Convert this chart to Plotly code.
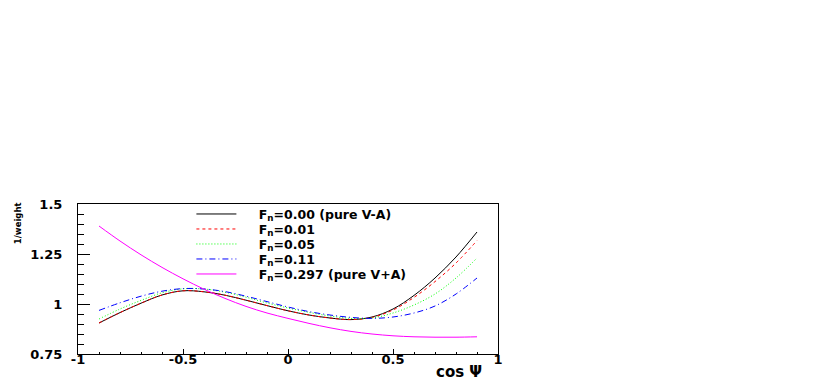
import plotly.graph_objects as go

cos_psi = [-0.9, -0.8, -0.7, -0.6, -0.5, -0.4, -0.3, -0.2, -0.1, 0.0,
           0.1, 0.2, 0.3, 0.4, 0.5, 0.6, 0.7, 0.8, 0.9]

w_fn000 = [0.905, 0.957, 1.004, 1.045, 1.066, 1.061, 1.044, 1.019, 0.992, 0.966,
           0.945, 0.930, 0.922, 0.935, 0.975, 1.043, 1.130, 1.235, 1.360]
w_fn001 = [0.905, 0.957, 1.004, 1.045, 1.066, 1.061, 1.044, 1.019, 0.992, 0.966,
           0.945, 0.930, 0.922, 0.933, 0.970, 1.033, 1.112, 1.205, 1.317]
w_fn005 = [0.925, 0.975, 1.018, 1.056, 1.076, 1.075, 1.059, 1.034, 1.005, 0.980,
           0.958, 0.940, 0.928, 0.930, 0.955, 0.995, 1.050, 1.130, 1.230]
w_fn011 = [0.968, 1.006, 1.039, 1.064, 1.077, 1.075, 1.062, 1.039, 1.012, 0.985,
           0.962, 0.945, 0.933, 0.928, 0.935, 0.955, 0.990, 1.050, 1.130]
w_fn0297 = [1.390, 1.315, 1.246, 1.183, 1.126, 1.074, 1.028, 0.988, 0.955, 0.928,
            0.903, 0.881, 0.863, 0.850, 0.841, 0.836, 0.834, 0.834, 0.836]

NBSP = "\u00a0"
series_names = [NBSP * 4 + "F<sub>n</sub>=0.00 (pure V-A)", NBSP * 4 + "F<sub>n</sub>=0.01",
                NBSP * 4 + "F<sub>n</sub>=0.05", NBSP * 4 + "F<sub>n</sub>=0.11",
                NBSP * 4 + "F<sub>n</sub>=0.297 (pure V+A)"]

x_tick_vals = [-1, -0.5, 0, 0.5, 1]
x_tick_labels = ["-1", "-0.5", "0", "0.5", "1"]
y_tick_vals = [0.75, 1.0, 1.25, 1.5]
y_tick_labels = ["0.75", "1", "1.25", "1.5"]

series = [w_fn000, w_fn001, w_fn005, w_fn011, w_fn0297]
colors = ["#000000", "#ff0000", "#00ff00", "#0000ff", "#ff00ff"]
dashes = ["solid", "3px,3px", "1px,2px", "6px,3px,1px,3px", "solid"]
legend_ids = ["legend", "legend2", "legend3", "legend4", "legend5"]
legend_y = [0.931, 0.831, 0.731, 0.631, 0.531]

FONT = "DejaVu Sans"

fig = go.Figure()
for vals, name, col, dash, lid in zip(series, series_names, colors, dashes, legend_ids):
    fig.add_trace(go.Scatter(
        x=cos_psi, y=vals, mode="lines", name=name,
        line=dict(color=col, width=1, dash=dash, shape="spline", smoothing=1.0),
        legend=lid, showlegend=True,
    ))

layout_legends = {}
for lid, ly in zip(legend_ids, legend_y):
    layout_legends[lid] = dict(
        x=0.27, y=ly, xanchor="left", yanchor="middle",
        bgcolor="rgba(0,0,0,0)", borderwidth=0,
        font=dict(family=FONT, size=12.5, color="black", weight="bold"),
        itemwidth=40,
    )

fig.update_layout(
    width=822, height=374,
    margin=dict(l=70, r=332, t=196, b=28, pad=0),
    paper_bgcolor="white", plot_bgcolor="white",
    **layout_legends,
    xaxis=dict(
        range=[-1, 1], showgrid=False, zeroline=False,
        showline=True, linecolor="black", linewidth=1, mirror=True,
        tickvals=x_tick_vals, ticktext=x_tick_labels,
        ticks="inside", ticklen=5, tickcolor="black", tickwidth=1,
        minor=dict(dtick=0.1, tick0=0, ticks="inside", ticklen=2.5, tickcolor="black", showgrid=False),
        tickfont=dict(family=FONT, size=13, color="black", weight="bold"),
        ticklabelstandoff=-7,
    ),
    yaxis=dict(
        range=[0.75, 1.5], showgrid=False, zeroline=False,
        showline=True, linecolor="black", linewidth=1, mirror=True,
        tickvals=y_tick_vals, ticktext=y_tick_labels,
        ticks="inside", ticklen=12, tickcolor="black", tickwidth=1,
        minor=dict(dtick=0.05, tick0=0.75, ticks="inside", ticklen=6, tickcolor="black", showgrid=False),
        tickfont=dict(family=FONT, size=13, color="black", weight="bold"),
        ticklabelstandoff=12,
    ),
    annotations=[
        dict(text="1/weight", xref="paper", yref="paper", x=-0.143, y=1.025,
             xanchor="center", yanchor="top", textangle=-90, showarrow=False,
             font=dict(family=FONT, size=8.5, color="black", weight="bold")),
        dict(text="cos Ψ", xref="paper", yref="paper", x=0.906, y=-0.117,
             xanchor="center", yanchor="middle", showarrow=False,
             font=dict(family=FONT, size=15, color="black", weight="bold")),
    ],
)

fig.write_html("out.html")
